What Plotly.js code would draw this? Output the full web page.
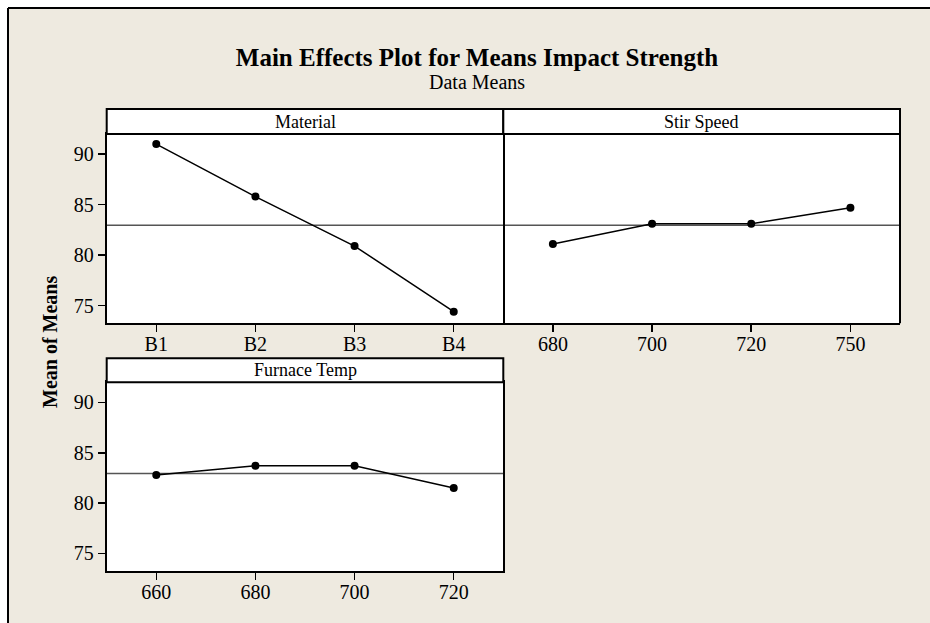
<!DOCTYPE html>
<html>
<head>
<meta charset="utf-8">
<script src="https://cdn.plot.ly/plotly-3.0.1.min.js"></script>
<style>html,body{margin:0;padding:0;background:#fff;overflow:hidden;}#chart{width:930px;height:623px;}</style>
</head>
<body>
<div id="chart"></div>
<script>
// ---- data ----
const materialLevels = ["B1", "B2", "B3", "B4"];
const materialMeans = [91.0, 85.8, 80.9, 74.4];
const stirLevels = ["680", "700", "720", "750"];
const stirMeans = [81.1, 83.1, 83.1, 84.7];
const furnaceLevels = ["660", "680", "700", "720"];
const furnaceMeans = [82.8, 83.7, 83.7, 81.5];
const grandMean = 82.95;
const panelTitles = ["Material", "Stir Speed", "Furnace Temp"];
const yTickVals = [75, 80, 85, 90];

// ---- geometry helpers (pixels -> paper) ----
const W = 930, H = 623;
const px = v => v / W;
const py = v => 1 - v / H;
const FONT = "Liberation Serif, Times New Roman, serif";
const BEIGE = "#EEEAE0";

const P1 = {x0: 106.7, x1: 503.3, y0: 134, y1: 323.3, s0: 109};
const P2 = {x0: 503.3, x1: 900, y0: 134, y1: 323.3, s0: 109};
const P3 = {x0: 106.7, x1: 503.3, y0: 382.3, y1: 571, s0: 358.3};
const panels = [P1, P2, P3];

function trace(x, y, xa, ya) {
  return {
    x: x, y: y, xaxis: xa, yaxis: ya, type: "scatter", mode: "lines+markers",
    line: {color: "#000", width: 1.5},
    marker: {color: "#000", size: 8},
    showlegend: false, hoverinfo: "x+y"
  };
}

const data = [
  trace(materialLevels, materialMeans, "x", "y"),
  trace(stirLevels, stirMeans, "x2", "y2"),
  trace(furnaceLevels, furnaceMeans, "x3", "y3")
];

function xaxis(p, anchor) {
  return {
    domain: [px(p.x0), px(p.x1)], anchor: anchor, type: "category",
    range: [-0.5, 3.5], showgrid: false, zeroline: false,
    showline: true, mirror: true, linecolor: "#000", linewidth: 2,
    ticks: "outside", ticklen: 7, tickwidth: 1.5, tickcolor: "#000",
    ticklabelstandoff: -5,
    tickfont: {family: FONT, size: 20, color: "#000"}, fixedrange: true
  };
}
function yaxis(p, anchor, labels) {
  return {
    domain: [py(p.y1), py(p.y0)], anchor: anchor,
    range: [73.25, 92.0], tickvals: yTickVals,
    showgrid: false, zeroline: false,
    showline: labels, mirror: true, linecolor: "#000", linewidth: 2,
    ticks: labels ? "outside" : "", ticklen: 7, tickwidth: 1.5, tickcolor: "#000",
    showticklabels: labels,
    tickfont: {family: FONT, size: 20, color: "#000"}, fixedrange: true
  };
}

const shapes = [
  // white margin outside the beige frame, and the frame's top/left edges
  {type: "rect", xref: "paper", yref: "paper", x0: 0, x1: 1, y0: py(8), y1: 1,
   fillcolor: "#fff", line: {width: 0}, layer: "below"},
  {type: "rect", xref: "paper", yref: "paper", x0: 0, x1: px(8), y0: 0, y1: 1,
   fillcolor: "#fff", line: {width: 0}, layer: "below"},
  {type: "line", xref: "paper", yref: "paper", x0: px(8), x1: 1, y0: py(8), y1: py(8),
   line: {color: "#000", width: 2}, layer: "below"},
  {type: "line", xref: "paper", yref: "paper", x0: px(8), x1: px(8), y0: py(8), y1: 0,
   line: {color: "#000", width: 2}, layer: "below"},
  // beige strip along the right edge of the frame (frame continues beyond the picture)
  {type: "rect", xref: "paper", yref: "paper", x0: px(906), x1: 1, y0: 0, y1: py(9.5),
   fillcolor: BEIGE, line: {width: 0}, layer: "above"},
  // right border of the Stir Speed panel (its left border is the Material panel's right edge)
  {type: "line", xref: "x2 domain", yref: "y2 domain", x0: 1, x1: 1, y0: 0, y1: 1,
   line: {color: "#000", width: 2}, layer: "above"}
];
const annotations = [];
const axRefs = [["x", "y"], ["x2", "y2"], ["x3", "y3"]];
panels.forEach((p, i) => {
  // white plotting area
  shapes.push({type: "rect", xref: axRefs[i][0] + " domain", yref: axRefs[i][1] + " domain",
    x0: 0, x1: 1, y0: 0, y1: 1, fillcolor: "#fff", line: {width: 0}, layer: "below"});
  // strip
  shapes.push({type: "rect", xref: "paper", yref: "paper", x0: px(p.x0), x1: px(p.x1), y0: py(p.y0), y1: py(p.s0),
    fillcolor: "#fff", line: {color: "#000", width: 2}, layer: "above"});
  annotations.push({text: panelTitles[i], xref: "paper", yref: "paper", x: (px(p.x0) + px(p.x1)) / 2,
    y: py((p.s0 + p.y0) / 2), xanchor: "center", yanchor: "middle", showarrow: false,
    font: {family: FONT, size: 18, color: "#000"}});
  // grand mean reference line
  shapes.push({type: "line", xref: axRefs[i][0] + " domain", yref: axRefs[i][1], x0: 0, x1: 1,
    y0: grandMean, y1: grandMean, line: {color: "#555", width: 1.5}, layer: "below"});
});

annotations.push({text: "Data Means", xref: "paper", yref: "paper", x: px(477), y: py(82),
  xanchor: "center", yanchor: "middle", showarrow: false,
  font: {family: FONT, size: 20, color: "#000"}});
annotations.push({text: "Mean of Means", xref: "paper", yref: "paper", x: px(50), y: py(342),
  xanchor: "center", yanchor: "middle", showarrow: false, textangle: -90,
  font: {family: FONT, size: 20, color: "#000", weight: "bold"}});

const layout = {
  width: W, height: H,
  margin: {l: 0, r: 0, t: 0, b: 0},
  paper_bgcolor: BEIGE, plot_bgcolor: "#fff",
  title: {text: "Main Effects Plot for Means Impact Strength", x: px(477), xref: "paper", xanchor: "center",
    y: py(57), yref: "paper", yanchor: "middle",
    font: {family: FONT, size: 25, color: "#000", weight: "bold"}},
  xaxis: xaxis(P1, "y"), yaxis: yaxis(P1, "x", true),
  xaxis2: xaxis(P2, "y2"), yaxis2: yaxis(P2, "x2", false),
  xaxis3: xaxis(P3, "y3"), yaxis3: yaxis(P3, "x3", true),
  shapes: shapes, annotations: annotations,
  showlegend: false
};

Plotly.newPlot("chart", data, layout, {displayModeBar: false, staticPlot: true});
</script>
</body>
</html>
